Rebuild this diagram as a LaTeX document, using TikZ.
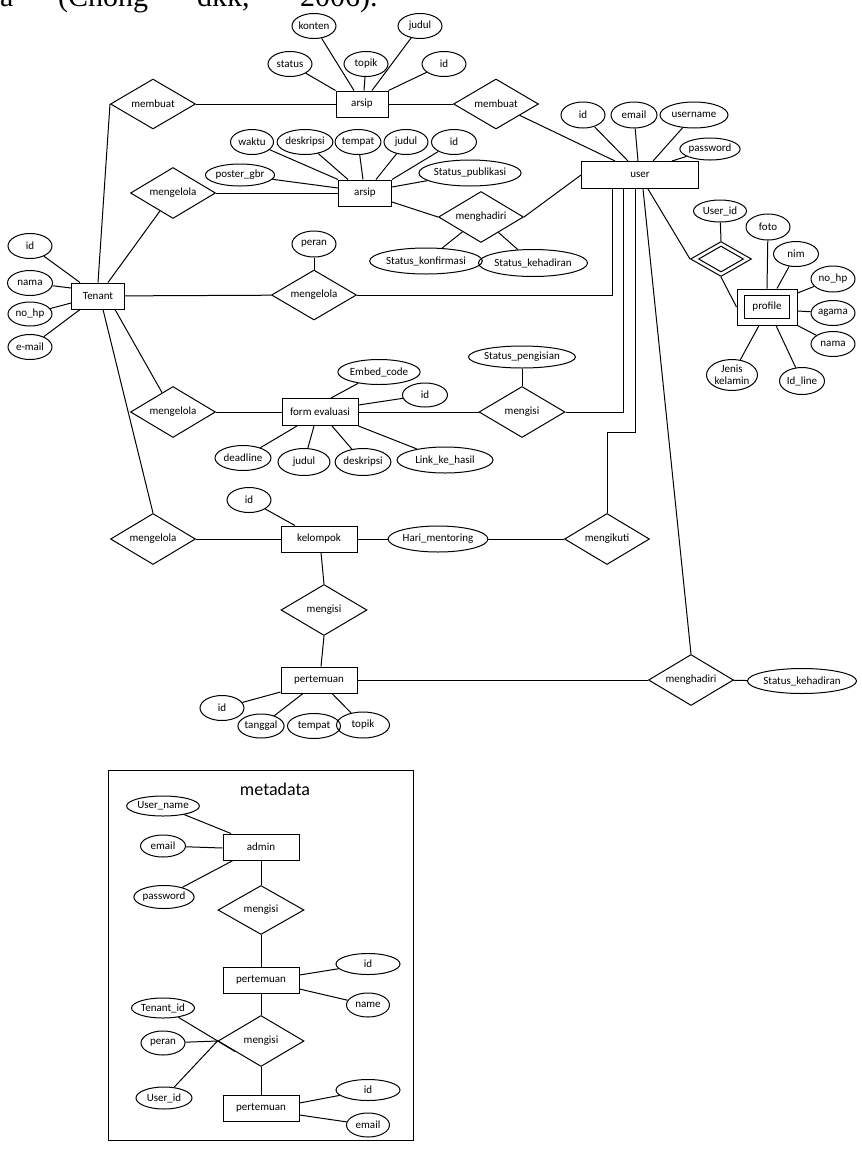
\documentclass[tikz,border=0pt]{standalone}
\usepackage{fontspec}
\setmainfont{Carlito}
\newfontfamily\serifx{Liberation Serif}
\usetikzlibrary{shapes.geometric,calc}
\begin{document}
\begin{tikzpicture}[x=1pt,y=-1pt,
  every node/.style={font=\fontsize{11}{12}\selectfont, inner sep=0pt},
  ent/.style={draw, rectangle, line width=1pt},
  att/.style={draw, ellipse, line width=1pt},
  rel/.style={draw, diamond, aspect=1.7, line width=1pt},
  sz/.style 2 args={minimum width=#1pt, minimum height=#2pt},
  lnk/.style={line width=1pt},
  toptext/.style={font=\serifx\fontsize{30}{34}\selectfont, anchor=base west}]
\path[use as bounding box, clip] (0,0) rectangle (862,1157);

% clipped running text at the top
\node[toptext] (t1) at (0,6.5) {a};
\node[toptext] (t2) at (58,6.5) {(Chong};
\node[toptext] (t3) at (197,6.5) {dkk,};
\node[toptext] (t4) at (300,6.5) {2006).};

% ---------- arsip (top) ----------
\node[att, sz={44}{25}] (konten) at (314,26) {konten};
\node[att, sz={44}{25}] (judulA) at (420,26) {judul};
\node[att, sz={44}{25}] (statusA) at (290,64) {status};
\node[att, sz={44}{25}] (topikA) at (366,64) {topik};
\node[att, sz={44}{25}] (idA) at (444,64) {id};
\node[ent, sz={52}{26}] (arsipA) at (362,104) {arsip};
\node[rel, sz={85}{50}] (membuatL) at (153,104) {membuat};
\node[rel, sz={85}{50}] (membuatR) at (496,104) {membuat};

% ---------- arsip (second) ----------
\node[att, sz={43}{25}] (waktu) at (252,142) {waktu};
\node[att, sz={54}{25}] (deskripsiB) at (305,142) {deskripsi};
\node[att, sz={44}{25}] (tempatB) at (358,142) {tempat};
\node[att, sz={44}{25}] (judulB) at (406,142) {judul};
\node[att, sz={45}{25}] (idB) at (454,142) {id};
\node[att, sz={66}{22}] (poster) at (240,175) {poster\_gbr};
\node[ent, sz={53}{26}] (arsipB) at (365,193) {arsip};
\node[att, sz={97}{26}] (statuspub) at (470,173) {Status\_publikasi};
\node[rel, sz={85}{51}] (mengelolaA) at (173,193) {mengelola};
\node[rel, sz={85}{51}] (menghadiriA) at (481,217) {menghadiri};
\node[att, sz={97}{26}] (statkonf) at (426,261) {Status\_konfirmasi};
\node[att, sz={98}{27}] (statkehA) at (533,263) {Status\_kehadiran};

% ---------- user ----------
\node[ent, sz={117}{27}] (user) at (640,175) {user};
\node[att, sz={44}{26}] (uid) at (583,115) {id};
\node[att, sz={46}{26}] (uemail) at (634,115) {email};
\node[att, sz={68}{26}] (uname) at (694,115) {username};
\node[att, sz={54}{22}] (upass) at (710,149) {password};

% ---------- profile (weak entity) ----------
\node[att, sz={53}{22}] (pUserid) at (720,211) {User\_id};
\node[rel, sz={61}{35}] (weak) at (721,259) {};
\node[draw, diamond, line width=1pt, sz={45}{26}] (weakin) at (721,259) {};
\node[ent, sz={60}{36}] (profO) at (767,307) {};
\node[ent, sz={45}{23}] (profI) at (767,307) {profile};
\node[att, sz={44}{26}] (foto) at (768,227) {foto};
\node[att, sz={45}{25}] (nim) at (796,254) {nim};
\node[att, sz={44}{26}] (nohpP) at (833,279) {no\_hp};
\node[att, sz={44}{25}] (agama) at (833,313) {agama};
\node[att, sz={44}{25}] (namaP) at (833,344) {nama};
\node[att, sz={51}{31}, align=center] (jenis) at (732,375) {Jenis\\kelamin};
\node[att, sz={45}{27}] (idline) at (802,381) {Id\_line};

% ---------- Tenant ----------
\node[ent, sz={53}{26}] (Tenant) at (98,296) {Tenant};
\node[att, sz={44}{25}] (tid) at (30,246) {id};
\node[att, sz={45}{25}] (tnama) at (30,283) {nama};
\node[att, sz={44}{24}] (tnohp) at (30,314) {no\_hp};
\node[att, sz={44}{25}] (temail) at (30,347) {e-mail};
\node[att, sz={44}{26}] (peran) at (314,244) {peran};
\node[rel, sz={85}{50}] (mengelolaB) at (314,295) {mengelola};

% ---------- form evaluasi ----------
\node[ent, sz={76}{27}] (form) at (320,412) {form evaluasi};
\node[rel, sz={85}{51}] (mengelolaC) at (173,412) {mengelola};
\node[att, sz={77}{25}] (embed) at (379,372) {Embed\_code};
\node[att, sz={45}{24}] (fid) at (425,395) {id};
\node[rel, sz={86}{51}] (mengisiA) at (522,412) {mengisi};
\node[att, sz={97}{22}] (statpeng) at (522,357) {Status\_pengisian};
\node[att, sz={56}{25}] (deadline) at (243,458) {deadline};
\node[att, sz={52}{27}] (fjudul) at (304,462) {judul};
\node[att, sz={54}{27}] (fdesk) at (363,462) {deskripsi};
\node[att, sz={96}{26}] (link) at (445,460) {Link\_ke\_hasil};

% ---------- kelompok / pertemuan ----------
\node[rel, sz={85}{51}] (mengelolaD) at (153,539) {mengelola};
\node[ent, sz={76}{26}] (kelompok) at (319,539) {kelompok};
\node[att, sz={44}{25}] (kid) at (249,500) {id};
\node[att, sz={97}{26}] (hari) at (438,539) {Hari\_mentoring};
\node[rel, sz={85}{51}] (mengikuti) at (607,539) {mengikuti};
\node[rel, sz={86}{51}] (mengisiB) at (324,610) {mengisi};
\node[ent, sz={76}{26}] (pertemuan) at (319,680) {pertemuan};
\node[att, sz={44}{25}] (pid) at (222,708) {id};
\node[att, sz={44}{24}] (tanggal) at (261,726) {tanggal};
\node[att, sz={53}{25}] (ptempat) at (314,726) {tempat};
\node[att, sz={53}{26}] (ptopik) at (363,725) {topik};
\node[rel, sz={85}{51}] (menghadiriB) at (691,680) {menghadiri};
\node[att, sz={97}{25}] (statkehB) at (802,681) {Status\_kehadiran};

% ---------- connectors (top part) ----------
\draw[lnk] (statusA) -- (arsipA.north west);
\draw[lnk] (konten) -- ($(arsipA.north)+(-8,0)$);
\draw[lnk] (topikA) -- ($(arsipA.north)+(2,0)$);
\draw[lnk] (judulA) -- ($(arsipA.north)+(10,0)$);
\draw[lnk] (idA) -- (arsipA.north east);
\draw[lnk] (membuatL) -- (arsipA);
\draw[lnk] (arsipA) -- (membuatR);
\draw[lnk] (membuatR) -- ($(user.north)+(-25,0)$);

\draw[lnk] (Tenant.north) -- (membuatL.west);
\draw[lnk] ($(Tenant.north)+(10,0)$) -- (mengelolaA);
\draw[lnk] (Tenant) -- (mengelolaB);
\draw[lnk] ($(Tenant.south)+(17,0)$) -- (mengelolaC);
\draw[lnk] ($(Tenant.south)+(5,0)$) -- (mengelolaD.north);
\draw[lnk] (tid) -- ($(Tenant.north)+(-18,0)$);
\draw[lnk] (tnama) -- ($(Tenant.west)+(0,-8)$);
\draw[lnk] (tnohp) -- ($(Tenant.west)+(0,7)$);
\draw[lnk] (temail) -- ($(Tenant.south)+(-18,0)$);

\draw[lnk] (mengelolaA) -- (arsipB);
\draw[lnk] (waktu) -- (arsipB.north west);
\draw[lnk] (deskripsiB) -- ($(arsipB.north)+(-17,0)$);
\draw[lnk] (tempatB) -- ($(arsipB.north)+(-2,0)$);
\draw[lnk] (judulB) -- ($(arsipB.north)+(11,0)$);
\draw[lnk] (idB) -- (arsipB.north east);
\draw[lnk] (poster) -- ($(arsipB.west)+(0,-5)$);
\draw[lnk] (statuspub) -- ($(arsipB.east)+(0,-6)$);
\draw[lnk] ($(arsipB.east)+(0,9)$) -- (menghadiriA.west);
\draw[lnk] (menghadiriA) -- (statkonf);
\draw[lnk] (menghadiriA) -- (statkehA);
\draw[lnk] (menghadiriA.east) -- (user.west);

\draw[lnk] (uid) -- ($(user.north)+(-12,0)$);
\draw[lnk] (uemail) -- ($(user.north)+(-2,0)$);
\draw[lnk] (uname) -- ($(user.north)+(13,0)$);
\draw[lnk] (upass) -- ($(user.north)+(32,0)$);

\draw[lnk] (mengelolaB.east) -| ($(user.south)+(-28,0)$);
\draw[lnk] (mengisiA.east) -| ($(user.south)+(-17,0)$);
\draw[lnk] ($(user.south)+(-5,0)$) |- ($(mengikuti.north)+(0,-81)$) -- (mengikuti.north);
\draw[lnk] ($(user.south)+(3,0)$) -- (menghadiriB.north);
\draw[lnk] ($(user.south)+(8,0)$) -- (weak.west);

\draw[lnk] (pUserid) -- (weak.north);
\draw[lnk] (weak.south) -- (profO.west);
\draw[lnk] (foto) -- (profO.north);
\draw[lnk] (nim) -- ($(profO.north)+(10,0)$);
\draw[lnk] (nohpP) -- ($(profO.east)+(0,-14)$);
\draw[lnk] (agama) -- ($(profO.east)+(0,4)$);
\draw[lnk] (namaP) -- (profO.south east);
\draw[lnk] (jenis) -- ($(profO.south)+(-8,0)$);
\draw[lnk] (idline) -- ($(profO.south)+(9,0)$);

\draw[lnk] (peran) -- (mengelolaB.north);
\draw[lnk] (mengelolaC) -- (form);
\draw[lnk] (form) -- (mengisiA);
\draw[lnk] (statpeng) -- (mengisiA.north);
\draw[lnk] (embed) -- ($(form.north)+(11,0)$);
\draw[lnk] (fid) -- ($(form.east)+(0,-7)$);
\draw[lnk] (deadline) -- ($(form.south)+(-23,0)$);
\draw[lnk] (fjudul) -- ($(form.south)+(-6,0)$);
\draw[lnk] (fdesk) -- ($(form.south)+(12,0)$);
\draw[lnk] (link) -- (form.south east);

\draw[lnk] (mengelolaD) -- (kelompok);
\draw[lnk] (kid) -- ($(kelompok.north)+(-24,0)$);
\draw[lnk] (kelompok) -- (hari);
\draw[lnk] (hari) -- (mengikuti);
\draw[lnk] ($(kelompok.south)+(2,0)$) -- (mengisiB.north);
\draw[lnk] (mengisiB.south) -- ($(pertemuan.north)+(2,0)$);
\draw[lnk] (pid) -- ($(pertemuan.west)+(0,12)$);
\draw[lnk] (tanggal) -- ($(pertemuan.south)+(-16,0)$);
\draw[lnk] (ptopik) -- ($(pertemuan.south)+(13,0)$);
\draw[lnk] (pertemuan) -- (menghadiriB);
\draw[lnk] (menghadiriB) -- (statkehB);

% ---------- metadata ----------
\draw[lnk] (108,770) rectangle (413,1140);
\node[font=\fontsize{18}{20}\selectfont] (mtitle) at (275,789) {metadata};
\node[att, sz={65}{20}] (mUsername) at (163,806) {User\_name};
\node[att, sz={45}{22}] (mEmail) at (163,846) {email};
\node[att, sz={57}{23}] (mPass) at (164,897) {password};
\node[ent, sz={76}{26}] (admin) at (261,847) {admin};
\node[rel, sz={86}{49}] (mMengisiA) at (261,910) {mengisi};
\node[ent, sz={76}{26}] (mPertA) at (261,980) {pertemuan};
\node[att, sz={64}{21}] (mIdA) at (368,964) {id};
\node[att, sz={43}{24}] (mName) at (368,1005) {name};
\node[rel, sz={86}{51}] (mMengisiB) at (261,1041) {mengisi};
\node[att, sz={63}{20}] (mTenantid) at (163,1008) {Tenant\_id};
\node[att, sz={44}{24}] (mPeran) at (163,1043) {peran};
\node[att, sz={56}{22}] (mUserid) at (164,1098) {User\_id};
\node[ent, sz={76}{26}] (mPertB) at (261,1108) {pertemuan};
\node[att, sz={64}{21}] (mIdB) at (368,1090) {id};
\node[att, sz={43}{24}] (mEmailB) at (368,1125) {email};

\draw[lnk] (mUsername) -- ($(admin.north)+(-30,0)$);
\draw[lnk] (mEmail) -- ($(admin.west)+(0,1)$);
\draw[lnk] (mPass) -- ($(admin.south)+(-28,0)$);
\draw[lnk] (admin) -- (mMengisiA);
\draw[lnk] (mMengisiA) -- (mPertA);
\draw[lnk] (mIdA) -- ($(mPertA.east)+(0,-5)$);
\draw[lnk] (mName) -- ($(mPertA.east)+(0,9)$);
\draw[lnk] (mPertA) -- (mMengisiB);
\draw[lnk] (mTenantid) -- ($(mMengisiB.west)!0.4!(mMengisiB.south)$);
\draw[lnk] (mPeran) -- (mMengisiB.west);
\draw[lnk] (mUserid) -- (mMengisiB.west);
\draw[lnk] (mMengisiB) -- (mPertB);
\draw[lnk] (mIdB) -- ($(mPertB.east)+(0,-5)$);
\draw[lnk] (mEmailB) -- ($(mPertB.east)+(0,7)$);
\end{tikzpicture}
\end{document}
